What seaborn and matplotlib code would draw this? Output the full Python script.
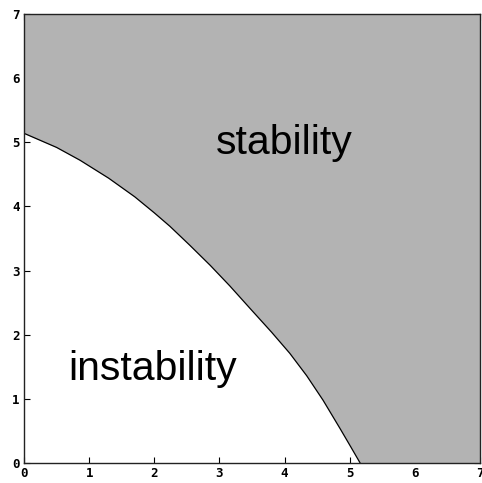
import numpy as np
import pandas as pd
import matplotlib
matplotlib.use("Agg")
import matplotlib.pyplot as plt
import seaborn as sns

# boundary
bx = [0.0, 0.5, 0.86, 1.3, 1.7, 2.0, 2.24, 2.55, 2.86, 3.16, 3.47, 3.8, 4.08,
      4.34, 4.59, 4.85, 5.0, 5.16]
by = [5.14, 4.92, 4.72, 4.44, 4.15, 3.90, 3.69, 3.39, 3.08, 2.76, 2.41, 2.04, 1.71,
      1.36, 0.98, 0.54, 0.28, 0.0]
ticks = [0, 1, 2, 3, 4, 5, 6, 7]
labels = ["stability", "instability"]

sns.set_style("ticks")
plt.rcParams['font.family'] = ['Liberation Sans', 'DejaVu Sans']

df = pd.DataFrame({"x": bx, "y": by})

fig = plt.figure(figsize=(4.82, 4.83), dpi=100)
ax = fig.add_axes([24 / 482, 20 / 483, 456 / 482, 449 / 483])

# grey region above the boundary, out to the right edge
fx = np.array(bx + [7.0])
fy = np.array(by + [0.0])
ax.fill_between(fx, fy, 7, color="#b3b3b3", linewidth=0)
sns.lineplot(data=df, x="x", y="y", color="black", linewidth=0.9, ax=ax, sort=False)

ax.text(4.0, 4.82, labels[0], fontsize=29.5, ha="center", va="baseline", color="black")
ax.text(1.97, 1.29, labels[1], fontsize=29.5, ha="center", va="baseline", color="black")

ax.set_xlim(0, 7)
ax.set_ylim(0, 7)
ax.set_xticks(ticks)
ax.set_yticks(ticks)
ax.set_xlabel("")
ax.set_ylabel("")
ax.tick_params(direction="in", length=4, width=0.8, top=True, right=True,
               pad=3, labelsize=9, colors="black")
for lab in ax.get_xticklabels() + ax.get_yticklabels():
    lab.set_family("DejaVu Sans Mono")
    lab.set_fontweight("bold")
for s in ax.spines.values():
    s.set_linewidth(1.0)
    s.set_color("#222222")

fig.savefig("out.png", dpi=100)
plt.close(fig)
